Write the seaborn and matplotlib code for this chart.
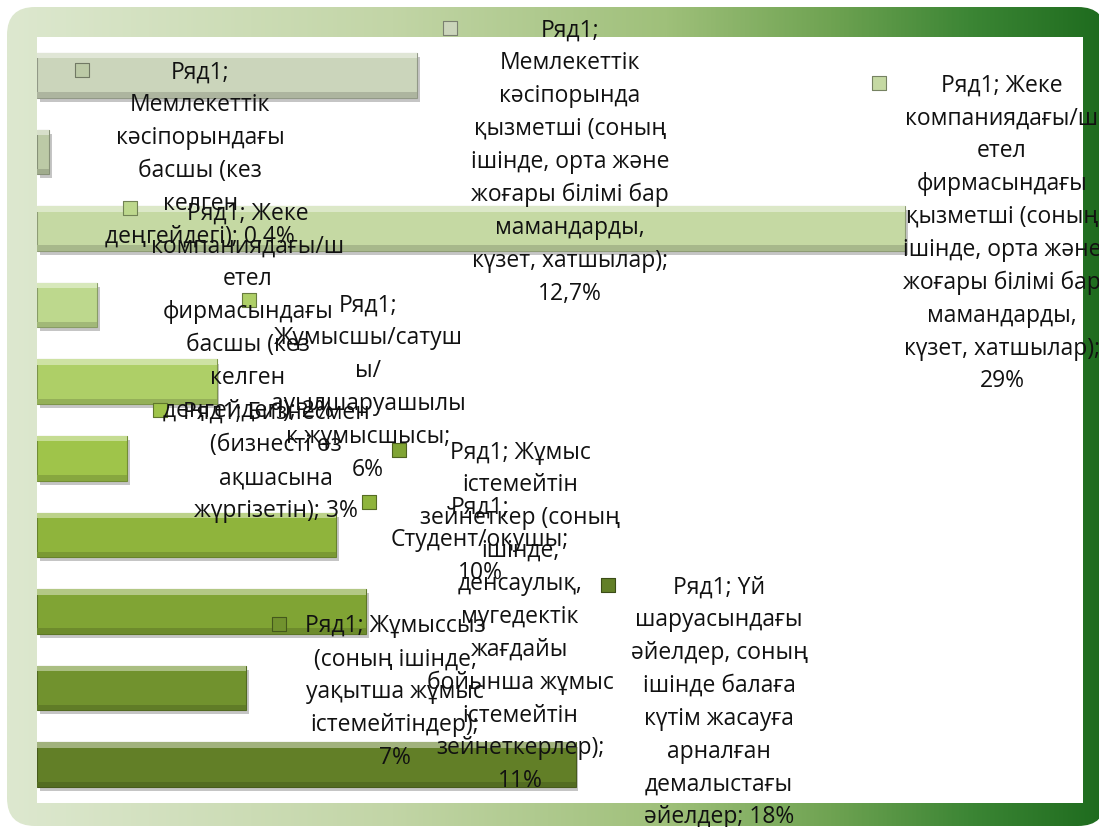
import numpy as np
import matplotlib
matplotlib.use("Agg")
import matplotlib.pyplot as plt
import seaborn as sns
from matplotlib.patches import FancyBboxPatch, Rectangle
from matplotlib.colors import LinearSegmentedColormap, to_rgb
from matplotlib.transforms import ScaledTranslation
import matplotlib.patheffects as pe

# ---------------- data ----------------
categories = [
    "Мемлекеттік кәсіпорында қызметші",
    "Мемлекеттік кәсіпорындағы басшы",
    "Жеке компаниядағы/шетел фирмасындағы қызметші",
    "Жеке компаниядағы/шетел фирмасындағы басшы",
    "Жұмысшы/сатушы/ауылшаруашылық жұмысшысы",
    "Бизнесмен",
    "Студент/оқушы",
    "Жұмыс істемейтін зейнеткер",
    "Жұмыссыз",
    "Үй шаруасындағы әйелдер",
]
values = [12.7, 0.4, 29, 2, 6, 3, 10, 11, 7, 18]

label_heads = [
    "Ряд1;\nМемлекеттік\nкәсіпорында\nқызметші (соның\nішінде, орта және\nжоғары білімі бар\nмамандарды,\nкүзет, хатшылар);\n",
    "Ряд1;\nМемлекеттік\nкәсіпорындағы\nбасшы (кез\nкелген\nдеңгейдегі); ",
    "Ряд1; Жеке\nкомпаниядағы/ш\nетел\nфирмасындағы\nқызметші (соның\nішінде, орта және\nжоғары білімі бар\nмамандарды,\nкүзет, хатшылар);\n",
    "Ряд1; Жеке\nкомпаниядағы/ш\nетел\nфирмасындағы\nбасшы (кез\nкелген\nдеңгейдегі); ",
    "Ряд1;\nЖұмысшы/сатуш\nы/\nауылшаруашылы\nк жұмысшысы;\n",
    "Ряд1; Бизнесмен\n(бизнесті өз\nақшасына\nжүргізетін); ",
    "Ряд1;\nСтудент/оқушы;\n",
    "Ряд1; Жұмыс\nістемейтін\nзейнеткер (соның\nішінде,\nденсаулық,\nмүгедектік\nжағдайы\nбойынша жұмыс\nістемейтін\nзейнеткерлер);\n",
    "Ряд1; Жұмыссыз\n(соның ішінде,\nуақытша жұмыс\nістемейтіндер);\n",
    "Ряд1; Үй\nшаруасындағы\nәйелдер, соның\nішінде балаға\nкүтім жасауға\nарналған\nдемалыстағы\nәйелдер; ",
]

# label anchor positions (data units: % along x, category index along y)
label_x = [17.81, 5.45, 32.24, 7.05, 11.06, 7.99, 14.80, 16.14, 11.96, 22.79]
label_y = [-0.617, -0.069, 0.100, 1.772, 2.973, 4.369, 5.610, 4.892, 7.163, 6.654]
key_x = [13.80, 1.50, 28.13, 3.11, 7.08, 4.11, 11.09, 12.10, 8.09, 19.08]
key_y = [-0.617, -0.069, 0.100, 1.732, 2.933, 4.369, 5.571, 4.892, 7.163, 6.654]

bar_colors = ["#cbd5bb", "#bccaa6", "#c5d9a3", "#bdd88d", "#aecf67", "#9fc44a",
              "#8fb43c", "#80a434", "#71922e", "#627f27"]

border_stops = [(0.0, "#dde8cf"), (0.35, "#c2d5a6"), (0.6, "#9fc07a"),
                (0.75, "#6fa352"), (0.88, "#3b8534"), (1.0, "#1e6b1e")]

# ---------------- figure ----------------
sns.set_theme(style="white")
plt.rcParams["font.family"] = ["Open Sans", "DejaVu Sans"]

W, H = 1099, 827
fig = plt.figure(figsize=(W / 100, H / 100), dpi=100)
fig.patch.set_facecolor("white")

# rounded gradient frame
bg = fig.add_axes([0, 0, 1, 1], zorder=0)
bg.set_xlim(0, W)
bg.set_ylim(H, 0)
bg.axis("off")
cmap = LinearSegmentedColormap.from_list("frame", border_stops)
grad = np.linspace(0, 1, 512).reshape(1, -1)
im = bg.imshow(grad, extent=(7, 1106, 826, 7), cmap=cmap, aspect="auto",
               interpolation="bilinear")
r = 28
frame = FancyBboxPatch((7 + r, 7 + r), 1106 - 7 - 2 * r, 826 - 7 - 2 * r,
                       boxstyle=f"round,pad={r}", facecolor="none",
                       edgecolor="none", transform=bg.transData)
bg.add_patch(frame)
im.set_clip_path(frame)

# plot area
ax = fig.add_axes([37 / W, 1 - 803 / H, (1083 - 37) / W, (803 - 37) / H], zorder=1)
ax.set_facecolor("white")

sns.barplot(x=values, y=categories, hue=categories, palette=bar_colors,
            legend=False, orient="h", width=0.58, saturation=1, ax=ax)
ax.set_xticks([])
ax.set_yticks([])
ax.set_xlabel("")
ax.set_ylabel("")
for s in ax.spines.values():
    s.set_visible(False)


def shade(c, f):
    rgb = np.array(to_rgb(c))
    return tuple(np.clip(rgb * f, 0, 1))


def tint(c, f):
    rgb = np.array(to_rgb(c))
    return tuple(rgb + (1 - rgb) * f)


for p, c in zip(ax.patches, bar_colors):
    p.set_edgecolor(shade(c, 0.72))
    p.set_linewidth(0.8)
    p.set_path_effects([pe.SimplePatchShadow(offset=(2, -3), alpha=0.3,
                                             shadow_rgbFace="#404040"),
                        pe.Normal()])
    x0, y0, w, h = p.get_x(), p.get_y(), p.get_width(), p.get_height()
    # bevel: light top strip, dark bottom strip
    ax.add_patch(Rectangle((x0, y0), w, h * 0.12, facecolor=tint(c, 0.4),
                           edgecolor="none", zorder=p.get_zorder() + 0.1))
    ax.add_patch(Rectangle((x0, y0 + h * 0.88), w, h * 0.12,
                           facecolor=shade(c, 0.85), edgecolor="none",
                           zorder=p.get_zorder() + 0.1))

# data-label keys
ax.scatter(key_x, key_y, marker="s", s=105, c=bar_colors,
           edgecolors=[shade(c, 0.6) for c in bar_colors], linewidths=0.8,
           zorder=6, clip_on=False)

ax.set_xlim(0, 34.95)
ax.set_ylim(len(categories) - 0.5, -0.5)

# data labels
lift = ScaledTranslation(0, 9.5 / 100, fig.dpi_scale_trans)
for head, v, lx, ly in zip(label_heads, values, label_x, label_y):
    vtxt = f"{v:g}".replace(".", ",") + "%"
    ax.text(lx, ly, head + vtxt, ha="center", va="top", multialignment="center",
            fontsize=16.5, linespacing=1.49, color="#111111",
            transform=ax.transData + lift, clip_on=False, zorder=7)

fig.savefig("out.png", dpi=100)
